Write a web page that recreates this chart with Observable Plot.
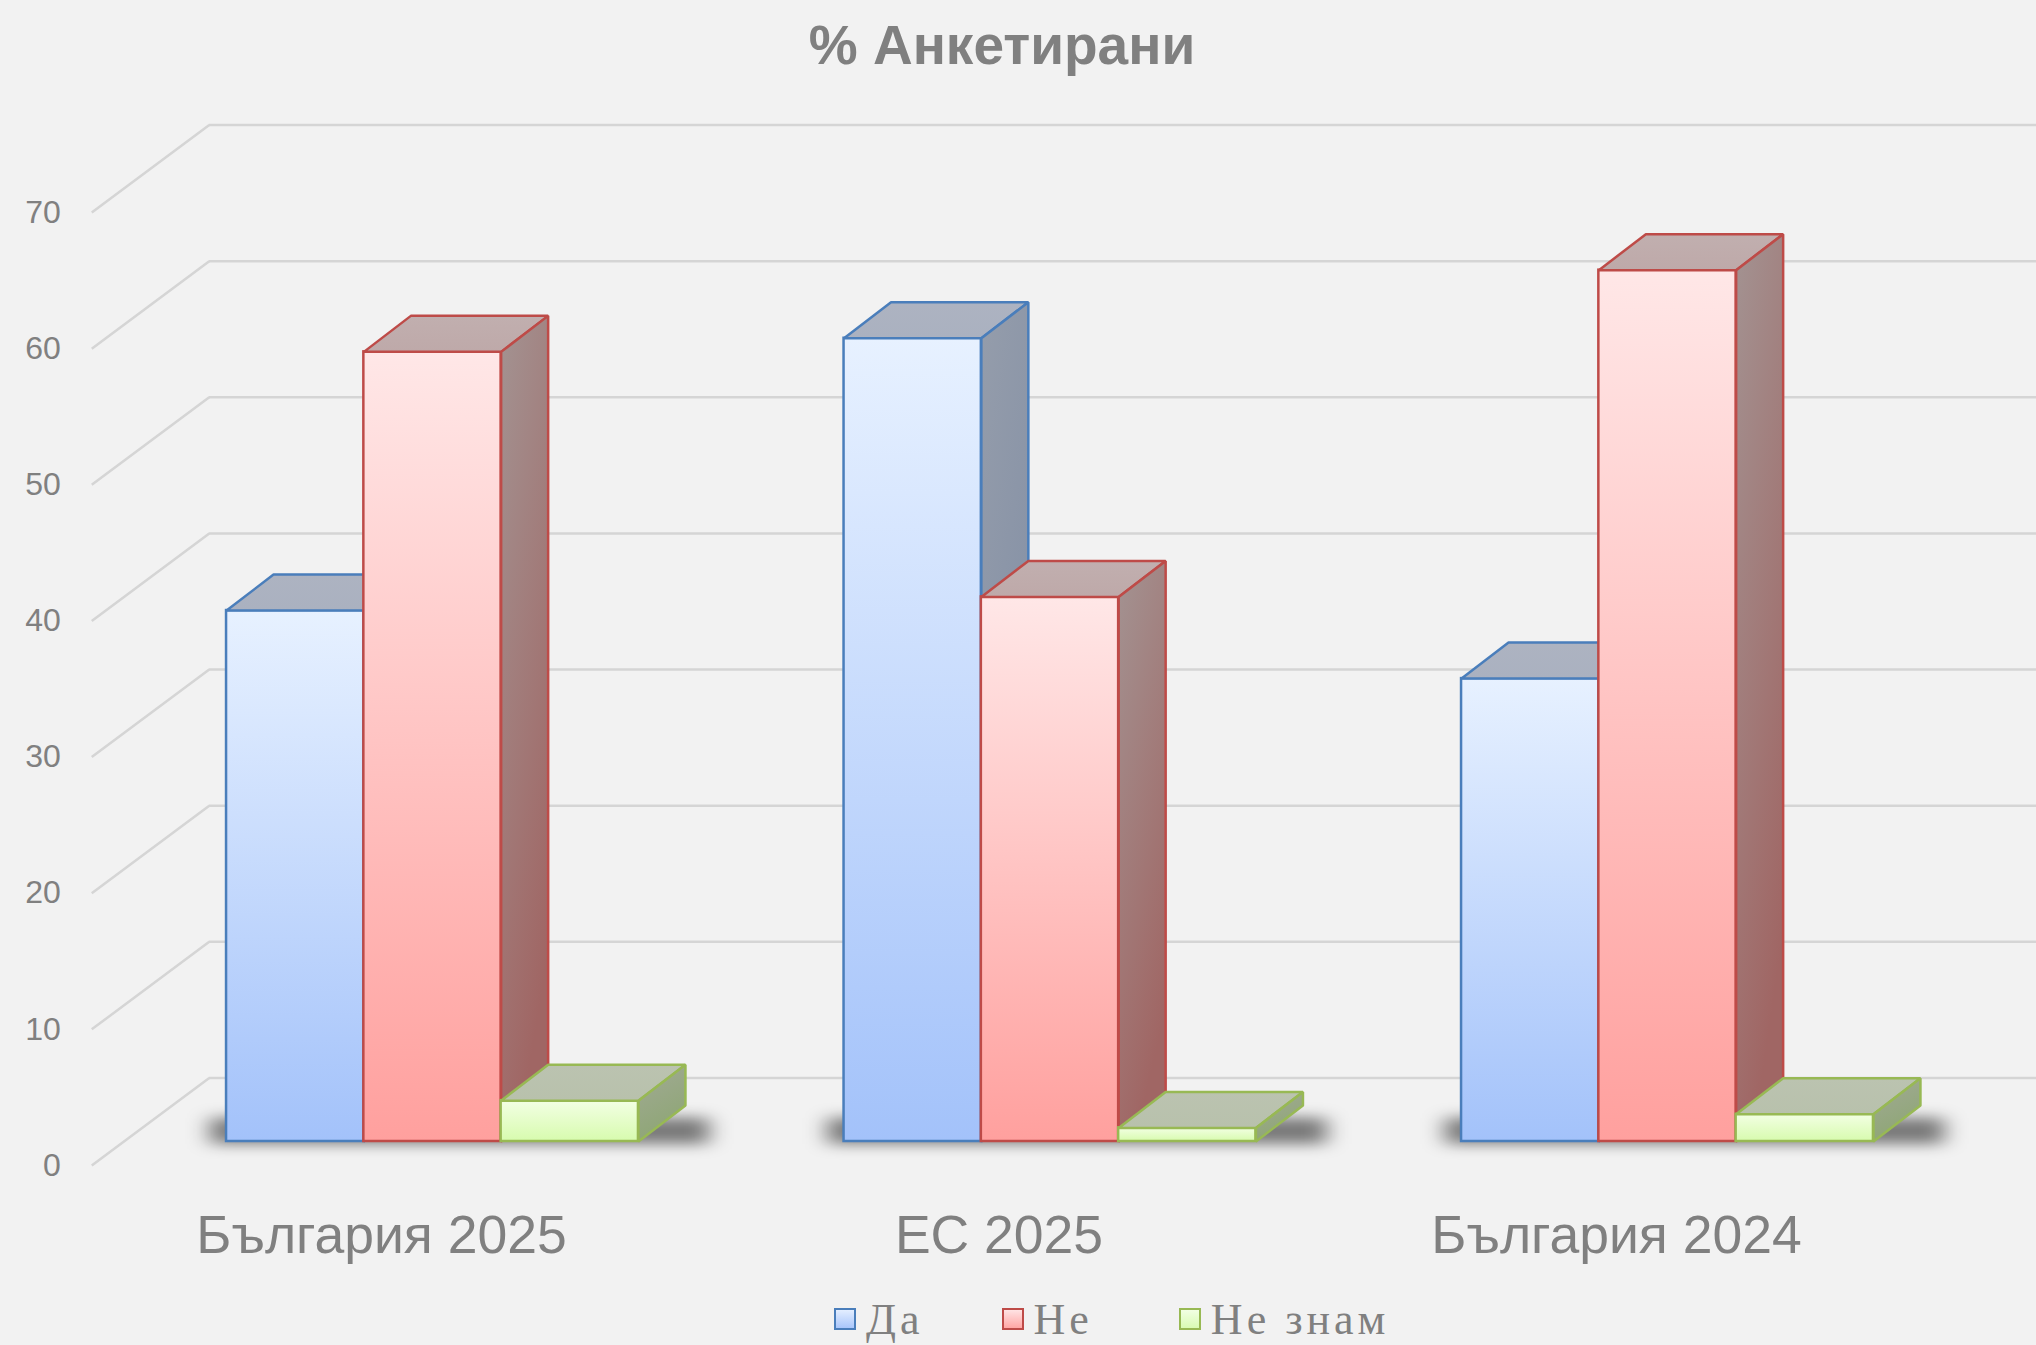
<!DOCTYPE html>
<html><head><meta charset="utf-8">
<script src="https://cdn.jsdelivr.net/npm/d3@7"></script>
<script src="https://cdn.jsdelivr.net/npm/@observablehq/plot@0.6"></script>
<style>
html,body{margin:0;padding:0;background:#f2f2f2;overflow:hidden;}
body{width:2036px;height:1345px;position:relative;font-family:"Liberation Sans",Arial,sans-serif;}
#title{position:absolute;left:0;top:18px;width:2004px;text-align:center;font-weight:bold;font-size:55px;line-height:55px;color:#808080;}
#chart{position:absolute;left:0;top:90px;}
#legend{position:absolute;left:834px;top:1298px;display:flex;font-family:"Liberation Serif","Times New Roman",serif;font-size:44px;line-height:44px;letter-spacing:4px;color:#808080;white-space:nowrap;}
.item{display:flex;align-items:flex-start;margin-right:78px;}
.item:nth-child(2){margin-right:86px;}
.sw{width:18px;height:18px;margin-top:10px;margin-right:10px;border:2px solid;box-sizing:content-box;}
</style></head><body>
<div id="title"></div>
<div id="chart"></div>
<div id="legend"></div>
<script>
const title = "% Анкетирани";
const categories = ["България 2025", "ЕС 2025", "България 2024"];
const series = ["Да", "Не", "Не знам"];
const da = [39, 59, 34];
const ne = [58, 40, 64];
const neZnam = [3, 1, 2];
const yTicks = [0, 10, 20, 30, 40, 50, 60, 70];

const seriesValues = [da, ne, neZnam];
const styleBySeries = [
  {stroke: "#4a7ebb", front: ["#e7f1ff", "#a3c2fa"], top: ["#adb3c1", "#aab1c0"], side: ["#959dab", "#808da4"], swatch: "linear-gradient(#e3eeff,#a9c6fb)"},
  {stroke: "#be4b48", front: ["#ffe7e7", "#ffa09e"], top: ["#c1afaf", "#bea9a9"], side: ["#a39392", "#a06664"], swatch: "linear-gradient(#ffe3e3,#ffa6a4)"},
  {stroke: "#98b954", front: ["#f3ffe4", "#d7fbae"], top: ["#bbc3b0", "#b8c1ac"], side: ["#a2aa96", "#8ea675"], swatch: "linear-gradient(#f2ffe3,#d9fbb3)"}
];

// layout
const W = 2036, H = 1200, ML = 91.25, MR = 92.25, MT = 122, MB = 125;
const ux = px => px / ((W - ML - MR) / categories.length);
const uy = px => px / ((H - MT - MB) / 70);
const BW = ux(137.3);           // bar width
const DX = ux(47), DY = uy(36); // bar depth
const WX = ux(117.5), WY = uy(87.5); // wall depth
const BAR_DX = 32, BAR_DY = -24;     // bar plane offset from front edge

const rows = [];
categories.forEach((c, i) => {
  series.forEach((s, k) => {
    const x1 = i + 0.5 + (k - 1.5) * BW;
    rows.push({cat: c, series: s, k, v: seriesValues[k][i], x1, x2: x1 + BW, id: c + "|" + s});
  });
});

const shadows = categories.map((c, i) => {
  const r = rows.filter(d => d.cat === c);
  return {x1: r[0].x1 - ux(16), x2: r[r.length - 1].x2 + DX + ux(24), y1: uy(-3), y2: DY * 0.65};
});

const marks = [
  Plot.link(yTicks, {x1: 0, x2: WX, y1: d => d, y2: d => d + WY, stroke: "#d5d5d5", strokeWidth: 2.5}),
  Plot.ruleY(yTicks, {y: d => d + WY, x1: WX, x2: 3.3, stroke: "#d5d5d5", strokeWidth: 2.5}),
  Plot.rect(shadows, {x1: "x1", x2: "x2", y1: "y1", y2: "y2", fill: "#000", fillOpacity: 0.5, dx: BAR_DX, dy: BAR_DY, ariaDescription: "shadow"})
];

series.forEach((s, k) => {
  const r = rows.filter(d => d.k === k);
  const st = styleBySeries[k];
  const top = r.flatMap(d => [
    {id: d.id, x: d.x1, y: d.v}, {id: d.id, x: d.x2, y: d.v},
    {id: d.id, x: d.x2 + DX, y: d.v + DY}, {id: d.id, x: d.x1 + DX, y: d.v + DY}
  ]);
  const side = r.flatMap(d => [
    {id: d.id, x: d.x2, y: 0}, {id: d.id, x: d.x2, y: d.v},
    {id: d.id, x: d.x2 + DX, y: d.v + DY}, {id: d.id, x: d.x2 + DX, y: DY}
  ]);
  marks.push(
    Plot.rect(r, {x1: "x1", x2: "x2", y1: 0, y2: "v", fill: `url(#front${k})`, stroke: st.stroke, strokeWidth: 2.5, dx: BAR_DX, dy: BAR_DY}),
    Plot.line(top, {x: "x", y: "y", z: "id", curve: "linear-closed", fill: `url(#top${k})`, stroke: st.stroke, strokeWidth: 2.5, strokeLinejoin: "miter", dx: BAR_DX, dy: BAR_DY}),
    Plot.line(side, {x: "x", y: "y", z: "id", curve: "linear-closed", fill: `url(#side${k})`, stroke: st.stroke, strokeWidth: 2.5, strokeLinejoin: "miter", dx: BAR_DX, dy: BAR_DY})
  );
});

marks.push(
  Plot.axisY(yTicks, {tickSize: 0, tickPadding: 31, fontSize: 32, fill: "#808080", label: null}),
  Plot.axisX(categories.map((c, i) => i + 0.5), {tickFormat: d => categories[Math.round(d - 0.5)], tickSize: 0, tickPadding: 49, fontSize: 53.5, fill: "#808080", dx: -19, label: null})
);

const chart = Plot.plot({
  width: W, height: H,
  marginLeft: ML, marginRight: MR, marginTop: MT, marginBottom: MB,
  x: {domain: [0, categories.length]},
  y: {domain: [0, 70]},
  style: {background: "transparent", fontFamily: "'Liberation Sans', Arial, sans-serif", color: "#808080", overflow: "hidden"},
  marks
});

const svg = d3.select(chart);
const defs = svg.insert("defs", ":first-child");
styleBySeries.forEach((st, k) => {
  ["front", "top", "side"].forEach(face => {
    const g = defs.append("linearGradient").attr("id", face + k).attr("x1", 0).attr("y1", 0).attr("x2", face === "side" ? 0.35 : 0).attr("y2", 1);
    g.append("stop").attr("offset", "0%").attr("stop-color", st[face][0]);
    g.append("stop").attr("offset", "100%").attr("stop-color", st[face][1]);
  });
});
defs.append("filter").attr("id", "blurShadow")
  .attr("filterUnits", "userSpaceOnUse").attr("x", 0).attr("y", 0).attr("width", W).attr("height", H)
  .append("feGaussianBlur").attr("stdDeviation", "11 7");
svg.selectAll("g")
  .filter(function() { return this.getAttribute("aria-description") === "shadow" || this.getAttribute("fill") === "#000"; })
  .attr("filter", "url(#blurShadow)");

document.getElementById("chart").appendChild(chart);
document.getElementById("title").textContent = title;

const legend = document.getElementById("legend");
series.forEach((s, k) => {
  const item = document.createElement("div");
  item.className = "item";
  const sw = document.createElement("div");
  sw.className = "sw";
  sw.style.borderColor = styleBySeries[k].stroke;
  sw.style.background = styleBySeries[k].swatch;
  const t = document.createElement("span");
  t.textContent = s;
  item.appendChild(sw); item.appendChild(t);
  legend.appendChild(item);
});
</script>
</body></html>
